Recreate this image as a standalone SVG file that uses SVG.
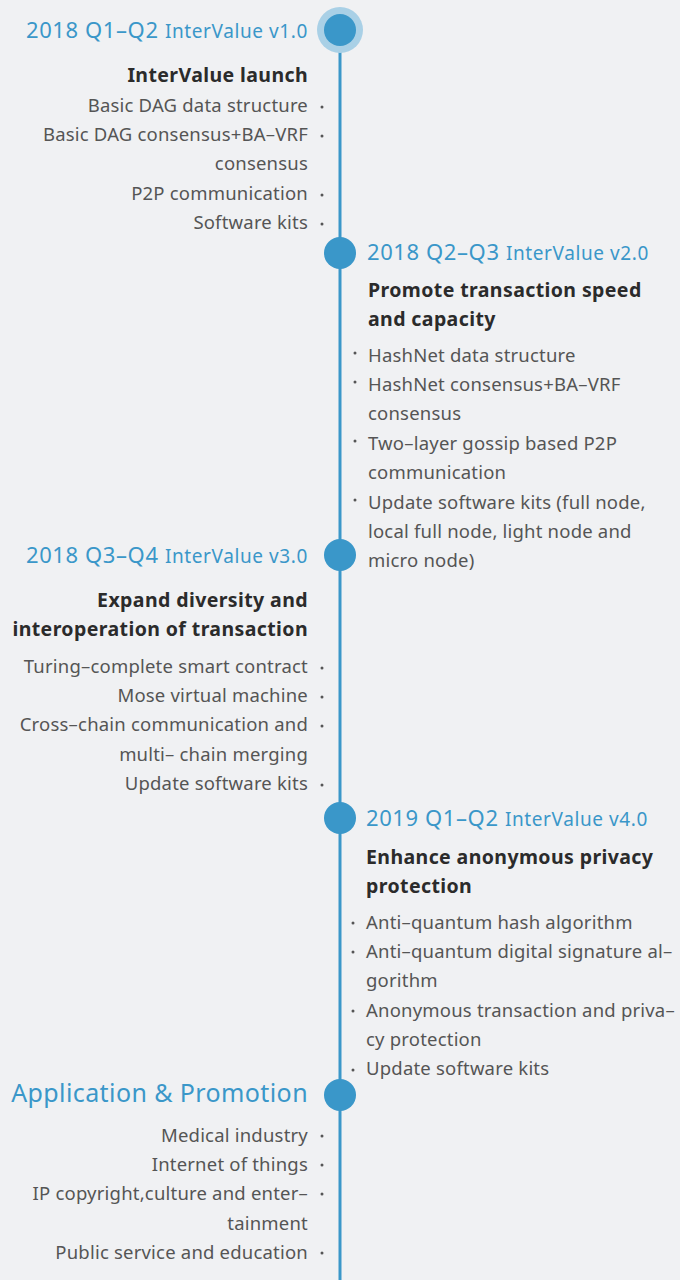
<svg xmlns="http://www.w3.org/2000/svg" width="680" height="1280" viewBox="0 0 680 1280">
<style>
text{font-family:"Noto Sans","Liberation Sans",sans-serif}
.y{fill:#3a97c9;font-size:22px;letter-spacing:0.6px}
.v{fill:#3a97c9;font-size:19px;letter-spacing:0.6px}
.h{fill:#2b2b2b;font-size:19.5px;font-weight:bold;letter-spacing:0.4px}
.i{fill:#555;font-size:18.5px;letter-spacing:0.2px}
.l{text-anchor:end}
.dot{fill:#555}
.n{fill:#3a97c9}
</style>
<rect width="680" height="1280" fill="#f0f1f3"/>
<g id="connectors"><line x1="340" y1="30" x2="340" y2="1280" stroke="#3a97c9" stroke-width="3"/></g>
<g id="n1">
<circle cx="340" cy="30" r="23" fill="#a9d0e6"/><circle class="n" cx="340" cy="30" r="16"/>
<text class="l" x="308" y="38"><tspan class="y">2018 Q1–Q2 </tspan><tspan class="v">InterValue v1.0</tspan></text>
<text class="h l" x="308" y="82">InterValue launch</text>
<g class="i l"><text x="308" y="112">Basic DAG data structure</text><text x="308" y="141">Basic DAG consensus+BA–VRF</text><text x="308" y="170">consensus</text><text x="308" y="200">P2P communication</text><text x="308" y="229">Software kits</text></g>
<g class="dot"><circle cx="322" cy="107" r="1.5"/><circle cx="322" cy="136" r="1.5"/><circle cx="322" cy="195" r="1.5"/><circle cx="322" cy="224" r="1.5"/></g>
</g>
<g id="n2">
<circle class="n" cx="340" cy="253" r="16"/>
<text x="367" y="260"><tspan class="y">2018 Q2–Q3 </tspan><tspan class="v">InterValue v2.0</tspan></text>
<text class="h" x="368" y="297">Promote transaction speed</text><text class="h" x="368" y="326">and capacity</text>
<g class="i"><text x="368" y="362">HashNet data structure</text><text x="368" y="391">HashNet consensus+BA–VRF</text><text x="368" y="420">consensus</text><text x="368" y="450">Two–layer gossip based P2P</text><text x="368" y="479">communication</text><text x="368" y="509">Update software kits (full node,</text><text x="368" y="538">local full node, light node and</text><text x="368" y="567">micro node)</text></g>
<g class="dot"><circle cx="355" cy="353" r="1.5"/><circle cx="355" cy="382" r="1.5"/><circle cx="355" cy="441" r="1.5"/><circle cx="355" cy="500" r="1.5"/></g>
</g>
<g id="n3">
<circle class="n" cx="340" cy="555" r="16"/>
<text class="l" x="308" y="563"><tspan class="y">2018 Q3–Q4 </tspan><tspan class="v">InterValue v3.0</tspan></text>
<text class="h l" x="308" y="607">Expand diversity and</text><text class="h l" x="308" y="636">interoperation of transaction</text>
<g class="i l"><text x="308" y="673">Turing–complete smart contract</text><text x="308" y="702">Mose virtual machine</text><text x="308" y="731">Cross–chain communication and</text><text x="308" y="761">multi– chain merging</text><text x="308" y="790">Update software kits</text></g>
<g class="dot"><circle cx="322" cy="668" r="1.5"/><circle cx="322" cy="697" r="1.5"/><circle cx="322" cy="726" r="1.5"/><circle cx="322" cy="785" r="1.5"/></g>
</g>
<g id="n4">
<circle class="n" cx="340" cy="818" r="16"/>
<text x="366" y="826"><tspan class="y">2019 Q1–Q2 </tspan><tspan class="v">InterValue v4.0</tspan></text>
<text class="h" x="366" y="864">Enhance anonymous privacy</text><text class="h" x="366" y="893">protection</text>
<g class="i"><text x="366" y="929">Anti–quantum hash algorithm</text><text x="366" y="958">Anti–quantum digital signature al–</text><text x="366" y="987">gorithm</text><text x="366" y="1017">Anonymous transaction and priva–</text><text x="366" y="1046">cy protection</text><text x="366" y="1075">Update software kits</text></g>
<g class="dot"><circle cx="353" cy="923" r="1.5"/><circle cx="353" cy="952" r="1.5"/><circle cx="353" cy="1011" r="1.5"/><circle cx="353" cy="1070" r="1.5"/></g>
</g>
<g id="n5">
<circle class="n" cx="340" cy="1095" r="16"/>
<text class="l" x="308" y="1102" fill="#3a97c9" font-size="25" letter-spacing="0.4">Application &amp; Promotion</text>
<g class="i l"><text x="308" y="1142">Medical industry</text><text x="308" y="1171">Internet of things</text><text x="308" y="1200">IP copyright,culture and enter–</text><text x="308" y="1230">tainment</text><text x="308" y="1259">Public service and education</text></g>
<g class="dot"><circle cx="322" cy="1136" r="1.5"/><circle cx="322" cy="1165" r="1.5"/><circle cx="322" cy="1194" r="1.5"/><circle cx="322" cy="1253" r="1.5"/></g>
</g>
</svg>
